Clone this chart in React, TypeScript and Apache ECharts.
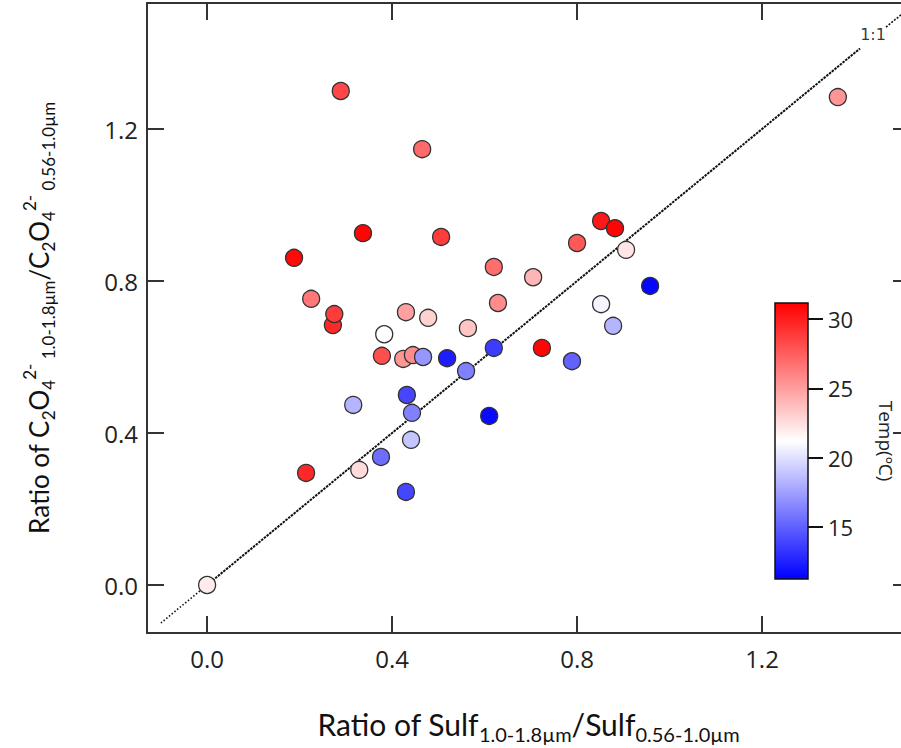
import React, { useEffect, useRef } from "react";
import * as echarts from "echarts";

// Sulfate size ratio (x), oxalate size ratio (y), temperature (ºC)
const sulfRatio = [
  0.289, 1.364, 0.465, 0.337, 0.506, 0.188, 0.852, 0.882, 0.8, 0.906,
  0.62, 0.705, 0.958, 0.225, 0.272, 0.275, 0.43, 0.478, 0.629, 0.564,
  0.383, 0.852, 0.878, 0.378, 0.424, 0.445, 0.467, 0.519, 0.62, 0.724,
  0.56, 0.789, 0.432, 0.443, 0.316, 0.61, 0.441, 0.376, 0.329, 0.214,
  0.43, 0.0,
];
const oxalateRatio = [
  1.3, 1.284, 1.147, 0.926, 0.916, 0.861, 0.958, 0.939, 0.9, 0.882,
  0.837, 0.81, 0.787, 0.753, 0.684, 0.713, 0.718, 0.703, 0.742, 0.676,
  0.66, 0.739, 0.682, 0.603, 0.595, 0.605, 0.6, 0.597, 0.624, 0.624,
  0.563, 0.589, 0.5, 0.453, 0.474, 0.445, 0.382, 0.337, 0.303, 0.295,
  0.245, 0.0,
];
const temperature = [
  28.4, 25.3, 27.0, 31.0, 28.8, 30.8, 30.2, 31.0, 27.7, 22.2,
  26.9, 24.1, 11.5, 26.5, 29.6, 28.8, 24.9, 23.0, 25.7, 23.5,
  21.2, 20.8, 18.3, 28.1, 25.3, 25.7, 17.1, 12.4, 13.6, 30.9,
  16.3, 15.1, 14.0, 16.3, 18.3, 11.6, 19.0, 15.5, 22.6, 29.6,
  14.0, 22.0,
];

const xTicks = [0, 0.4, 0.8, 1.2];
const yTicks = [0, 0.4, 0.8, 1.2];
const tempTicks = [15, 20, 25, 30];
const tempMin = 11.26;
const tempMax = 31.15;

// 1:1 reference line pieces
const oneToOneBelow = [[-0.1, -0.1], [0, 0]];
const oneToOneMain = [[0, 0], [1.412, 1.412]];
const oneToOneTop = [[1.468, 1.468], [1.53, 1.53]];
const oneToOneLabelAt = [[1.44, 1.44]];

const X_MIN = -0.13;
const X_MAX = 1.52;
const Y_MIN = -0.1263;
const Y_MAX = 1.5316;

const frameColor = "#333";
const tickFont = "'Open Sans', sans-serif";
const titleFont = "Lato, 'Open Sans', sans-serif";

export default function App() {
  const ref = useRef<HTMLDivElement>(null);

  useEffect(() => {
    if (!ref.current) return;
    document.body.style.margin = "0";
    document.documentElement.style.overflow = "hidden";
    const chart = echarts.init(ref.current, undefined, { renderer: "svg" });
    const points = sulfRatio.map((x, i) => [x, oxalateRatio[i], temperature[i]]);

    const richY = {
      m: { fontSize: 26, fontFamily: titleFont, color: "#111", lineHeight: 36, verticalAlign: "middle" },
      s: { fontSize: 17, fontFamily: titleFont, color: "#111", lineHeight: 17, verticalAlign: "bottom" },
      p: { fontSize: 17, fontFamily: titleFont, color: "#111", lineHeight: 17, verticalAlign: "top" },
    };
    const richX = {
      m: { fontSize: 30, fontFamily: titleFont, color: "#111", lineHeight: 40, verticalAlign: "middle" },
      s: { fontSize: 20, fontFamily: titleFont, color: "#111", lineHeight: 20, verticalAlign: "bottom" },
    };

    const mainAxisCommon = {
      type: "value" as const,
      splitLine: { show: false },
      axisLine: { show: true, onZero: false, lineStyle: { color: frameColor, width: 2 } },
    };

    chart.setOption({
      animation: false,
      backgroundColor: "#fff",
      grid: [
        { left: 147, top: 3, width: 763, height: 630, containLabel: false, outerBoundsMode: "none" },
        {
          left: 775,
          top: 303,
          width: 33,
          height: 276,
          show: true,
          outerBoundsMode: "none",
          borderColor: "#111",
          borderWidth: 1.5,
          backgroundColor: new echarts.graphic.LinearGradient(0, 1, 0, 0, [
            { offset: 0, color: "#0000ff" },
            { offset: 0.5, color: "#ffffff" },
            { offset: 1, color: "#ff0000" },
          ]),
        },
      ],
      visualMap: {
        type: "continuous",
        show: false,
        min: tempMin,
        max: tempMax,
        dimension: 2,
        seriesIndex: 0,
        inRange: { color: ["#0000ff", "#ffffff", "#ff0000"] },
      },
      xAxis: [
        {
          ...mainAxisCommon,
          gridIndex: 0,
          position: "bottom",
          min: X_MIN,
          max: X_MAX,
          axisTick: { show: true, inside: true, length: 17, customValues: xTicks, lineStyle: { color: frameColor, width: 2 } },
          axisLabel: {
            show: true,
            customValues: xTicks,
            formatter: (v: number) => v.toFixed(1),
            fontSize: 24,
            fontFamily: tickFont,
            color: "#222",
            margin: 13,
          },
          name: "{m|Ratio of Sulf}{s|1.0-1.8µm}{m|/Sulf}{s|0.56-1.0µm}",
          nameLocation: "middle",
          nameGap: 71,
          nameTextStyle: { rich: richX },
        },
        {
          ...mainAxisCommon,
          gridIndex: 0,
          position: "top",
          min: X_MIN,
          max: X_MAX,
          axisTick: { show: true, inside: true, length: 17, customValues: xTicks, lineStyle: { color: frameColor, width: 2 } },
          axisLabel: { show: false },
        },
        { type: "value", gridIndex: 1, show: false, min: 0, max: 1 },
      ],
      yAxis: [
        {
          ...mainAxisCommon,
          gridIndex: 0,
          position: "left",
          min: Y_MIN,
          max: Y_MAX,
          axisTick: { show: true, inside: true, length: 17, customValues: yTicks, lineStyle: { color: frameColor, width: 2 } },
          axisLabel: {
            show: true,
            customValues: yTicks,
            formatter: (v: number) => v.toFixed(1),
            fontSize: 24,
            fontFamily: tickFont,
            color: "#222",
            margin: 9,
          },
          name:
            "{m|Ratio of C}{s|2}{m|O}{s|4}{p|2-}{s| 1.0-1.8µm}{m|/C}{s|2}{m|O}{s|4}{p|2-}{s| 0.56-1.0µm}",
          nameLocation: "middle",
          nameGap: 90,
          nameRotate: 90,
          nameTextStyle: { rich: richY },
        },
        {
          ...mainAxisCommon,
          gridIndex: 0,
          position: "right",
          min: Y_MIN,
          max: Y_MAX,
          axisTick: { show: true, inside: true, length: 17, customValues: yTicks, lineStyle: { color: frameColor, width: 2 } },
          axisLabel: { show: false },
        },
        {
          type: "value",
          gridIndex: 1,
          position: "right",
          min: tempMin,
          max: tempMax,
          splitLine: { show: false },
          axisLine: { show: false, onZero: false },
          axisTick: { show: true, inside: false, length: 15, customValues: tempTicks, lineStyle: { color: "#111", width: 2 } },
          axisLabel: {
            show: true,
            customValues: tempTicks,
            fontSize: 22,
            fontFamily: tickFont,
            color: "#222",
            margin: 20,
          },
          name: "Temp(ºC)",
          nameLocation: "middle",
          nameRotate: -90,
          nameGap: 68,
          nameTextStyle: { fontSize: 19, fontFamily: tickFont, color: "#222" },
        },
      ],
      series: [
        {
          type: "scatter",
          xAxisIndex: 0,
          yAxisIndex: 0,
          data: points,
          symbolSize: 17,
          z: 5,
          itemStyle: { borderColor: "#333", borderWidth: 1.3, opacity: 1 },
        },
        {
          type: "line",
          xAxisIndex: 0,
          yAxisIndex: 0,
          data: oneToOneBelow,
          symbol: "none",
          silent: true,
          z: 2,
          lineStyle: { color: "#111", width: 1.6, type: [1.5, 2] },
        },
        {
          type: "line",
          xAxisIndex: 0,
          yAxisIndex: 0,
          data: oneToOneMain,
          symbol: "none",
          silent: true,
          z: 2,
          lineStyle: { color: "#111", width: 2, type: [2.5, 1] },
        },
        {
          type: "line",
          xAxisIndex: 0,
          yAxisIndex: 0,
          data: oneToOneTop,
          symbol: "none",
          silent: true,
          z: 2,
          lineStyle: { color: "#111", width: 1.6, type: [2, 1.5] },
        },
        {
          type: "scatter",
          xAxisIndex: 0,
          yAxisIndex: 0,
          data: oneToOneLabelAt,
          symbolSize: 2,
          itemStyle: { color: "rgba(0,0,0,0)" },
          silent: true,
          z: 6,
          label: {
            show: true,
            position: "inside",
            offset: [0, -3],
            formatter: "1:1",
            fontSize: 16,
            fontFamily: "'DejaVu Sans', sans-serif",
            color: "#000",
          },
        },
      ],
    });

    return () => chart.dispose();
  }, []);

  return <div ref={ref} style={{ width: 901, height: 748 }} />;
}
